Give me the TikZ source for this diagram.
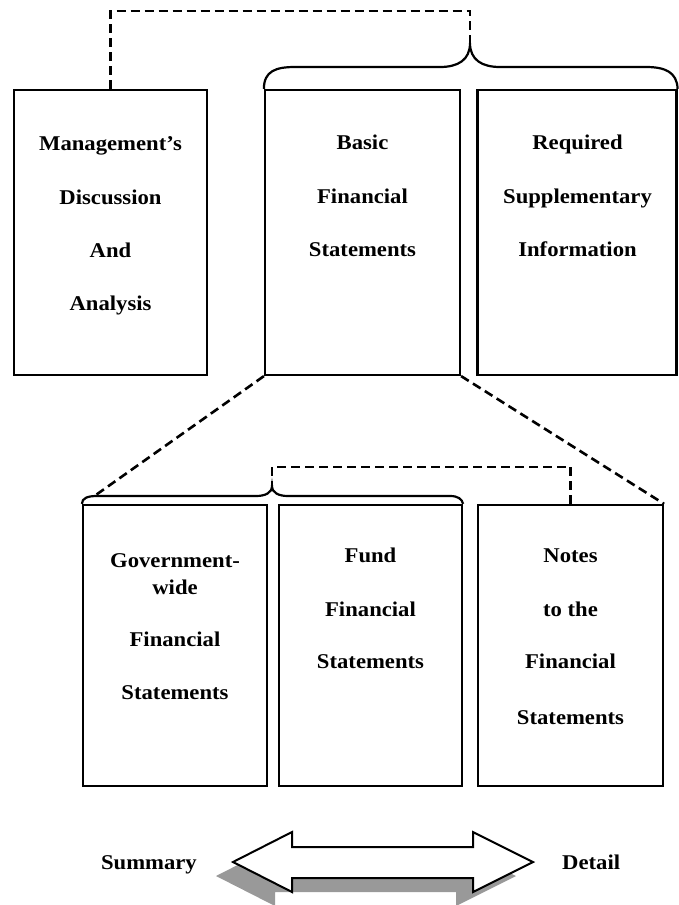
\documentclass[tikz,border=0pt]{standalone}
\usepackage{fontspec}
\newfontfamily\boxfont[FakeStretch=1.08]{Liberation Serif}
\begin{document}
\begin{tikzpicture}[x=1pt,y=-1pt,
  box/.style={draw=black,line width=2.2pt,fill=white,inner sep=0pt},
  lbl/.style={font=\boxfont\bfseries\fontsize{21}{25}\selectfont,inner sep=0pt,text height=14pt,text depth=0pt,anchor=center},
  dsh/.style={draw=black,line width=2.6pt,dash pattern=on 9pt off 5pt},
  brc/.style={draw=black,line width=2.2pt}]
\useasboundingbox (0,0) rectangle (679,905);

% top row boxes
\node[box,minimum width=193pt,minimum height=285pt] (md) at (110.5,232.5) {};
\node[box,minimum width=195pt,minimum height=285pt] (bfs) at (362.5,232.5) {};
\node[box,minimum width=199pt,minimum height=285pt] (rsi) at (577,232.5) {};

\node[lbl] (md1) at (110.5,143) {Management’s};
\node[lbl] (md2) at (110.5,197) {Discussion};
\node[lbl] (md3) at (110.5,250) {And};
\node[lbl] (md4) at (110.5,303) {Analysis};

\node[lbl] (bf1) at (362.5,142) {Basic};
\node[lbl] (bf2) at (362.5,196) {Financial};
\node[lbl] (bf3) at (362.5,249) {Statements};

\node[lbl] (rs1) at (577.5,142) {Required};
\node[lbl] (rs2) at (577.5,196) {Supplementary};
\node[lbl] (rs3) at (577.5,249) {Information};

% bottom row boxes
\node[box,minimum width=184pt,minimum height=281pt] (gw) at (175,645.5) {};
\node[box,minimum width=183pt,minimum height=281pt] (fund) at (370.5,645.5) {};
\node[box,minimum width=185pt,minimum height=281pt] (notes) at (570.5,645.5) {};

\node[lbl] (gw1) at (175,560) {Government-};
\node[lbl] (gw2) at (175,587) {wide};
\node[lbl] (gw3) at (175,639) {Financial};
\node[lbl] (gw4) at (175,692) {Statements};

\node[lbl] (fu1) at (370.5,555) {Fund};
\node[lbl] (fu2) at (370.5,609) {Financial};
\node[lbl] (fu3) at (370.5,661) {Statements};

\node[lbl] (no1) at (570.5,555) {Notes};
\node[lbl] (no2) at (570.5,609) {to the};
\node[lbl] (no3) at (570.5,661) {Financial};
\node[lbl] (no4) at (570.5,717) {Statements};

% braces
\coordinate (topcusp) at (470,43);
\coordinate (botcusp) at (272,486);
\draw[brc] (bfs.north west) .. controls ++(0,-18) and (276,67) .. (295,67)
  -- (440,67) .. controls (458,67) and (470,60) .. (topcusp)
  .. controls (470,60) and (482,67) .. (500,67)
  -- (646,67) .. controls (665,67) and (677,72) .. (rsi.north east);
\draw[brc] (gw.north west) .. controls ++(0,-6) and (88,496) .. (97,496)
  -- (256,496) .. controls (265,496) and (272,493) .. (botcusp)
  .. controls (272,493) and (279,496) .. (288,496)
  -- (450,496) .. controls (458,496) and (462,499) .. (fund.north east);

% dashed connectors
\draw[dsh] (md.north) -- ++(0,-78) -| (topcusp);
\draw[dsh] (notes.north) -- ++(0,-37) -| (botcusp);
\coordinate (gwend) at (93,497);
\draw[dsh] (bfs.south west) -- (gwend);
\draw[dsh] (bfs.south east) -- (notes.north east);

% double arrow with shadow
\fill[black!40,shift={(-17,14)}] (233,862) -- (292,832) -- (292,847) -- (473,847) -- (473,832)
  -- (533,862) -- (473,892) -- (473,878) -- (292,878) -- (292,892) -- cycle;
\draw[fill=white,line width=2pt,line join=miter] (233,862) -- (292,832) -- (292,847) -- (473,847) -- (473,832)
  -- (533,862) -- (473,892) -- (473,878) -- (292,878) -- (292,892) -- cycle;

\node[lbl,anchor=east] (sum) at (197,862) {Summary};
\node[lbl,anchor=west] (det) at (562,862) {Detail};
\end{tikzpicture}
\end{document}
